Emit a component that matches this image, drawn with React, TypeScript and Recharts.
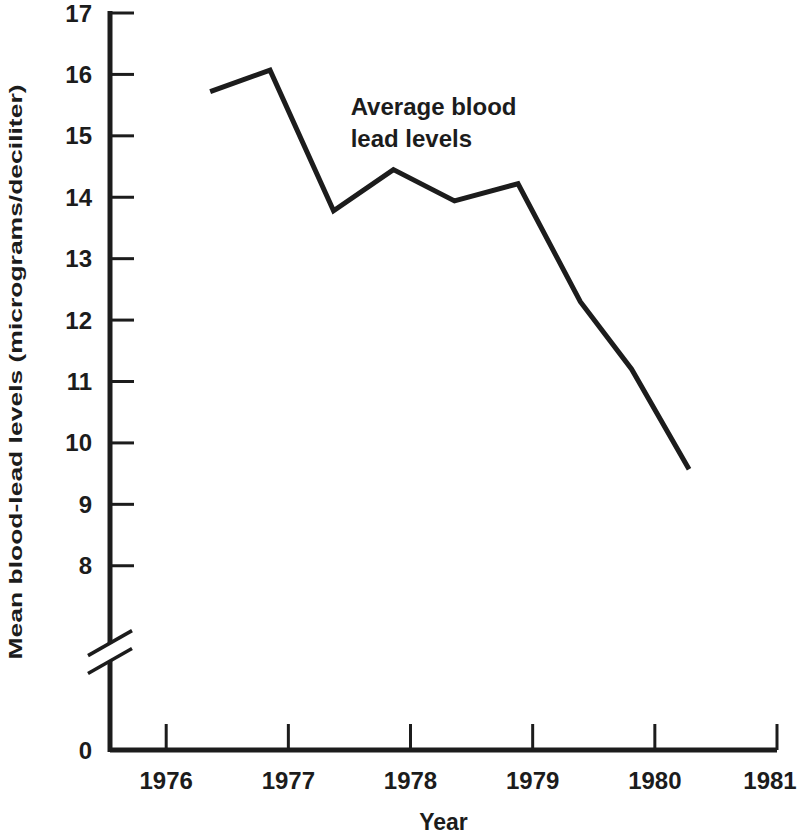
import React from 'react';
import { LineChart, Line, XAxis, YAxis, ReferenceLine, ReferenceDot, Label } from 'recharts';

// semiannual survey points
const years = [1976.36, 1976.85, 1977.37, 1977.86, 1978.36, 1978.88, 1979.39, 1979.81, 1980.28];
const leadLevels = [15.72, 16.07, 13.78, 14.45, 13.94, 14.22, 12.3, 11.2, 9.57];
const yearTicks = [1976, 1977, 1978, 1979, 1980, 1981];
// 5 on the scale stands in for the "0" below the axis break
const levelTicks = [5, 8, 9, 10, 11, 12, 13, 14, 15, 16, 17];
const annotationLines = ['Average blood', 'lead levels'];

const data = years.map((year, i) => ({ year, level: leadLevels[i] }));

const INK = '#1c1c1c';
const FONT = '"Liberation Sans", Arial, Helvetica, sans-serif';
const X_MIN = 1975.54;
const X_MAX = 1981;
const Y_MIN = 5;
const Y_MAX = 17;
const BREAK_HIGH = 6.74;
const BREAK_LOW = 6.45;

const YTick: React.FC<any> = ({ x, y, payload }) => {
    const isZero = payload.value === Y_MIN;
    return (
        <g>
            {!isZero && <line x1={x} x2={x + 24} y1={y} y2={y} stroke={INK} strokeWidth={3} />}
            <text x={x - 18} y={y} dy={8.5} textAnchor="end" fill={INK} fontFamily={FONT} fontWeight="bold" fontSize={24}>
                {isZero ? '0' : payload.value}
            </text>
        </g>
    );
};

const XTick: React.FC<any> = ({ x, y, payload }) => (
    <g>
        <line x1={x} x2={x} y1={y} y2={y - 26} stroke={INK} strokeWidth={3} />
        {/* keep the last label inside the page */}
        <text x={Math.min(x, 770)} y={y + 39} textAnchor="middle" fill={INK} fontFamily={FONT} fontWeight="bold" fontSize={24}>
            {payload.value}
        </text>
    </g>
);

// y axis drawn by hand so it can have the // break
const BrokenAxis: React.FC<any> = ({ x1, y1, y2 }) => {
    const top = Math.min(y1, y2);
    const bottom = Math.max(y1, y2);
    const toPx = (v: number) => bottom - ((v - Y_MIN) / (Y_MAX - Y_MIN)) * (bottom - top);
    const gapTop = toPx(BREAK_HIGH);
    const gapBottom = toPx(BREAK_LOW);
    return (
        <g stroke={INK} strokeWidth={5}>
            <line x1={x1} x2={x1} y1={top - 2} y2={gapTop} />
            <line x1={x1} x2={x1} y1={gapBottom} y2={bottom + 2} />
            <line x1={x1 - 22} x2={x1 + 22} y1={gapTop + 12.5} y2={gapTop - 12.5} strokeWidth={3.5} />
            <line x1={x1 - 22} x2={x1 + 22} y1={gapBottom + 12.5} y2={gapBottom - 12.5} strokeWidth={3.5} />
        </g>
    );
};

const Annotation: React.FC<any> = ({ cx, cy }) => (
    <text x={cx} y={cy} fill={INK} fontFamily={FONT} fontWeight="bold" fontSize={24}>
        {annotationLines.map((line, i) => (
            <tspan key={line} x={cx} dy={i === 0 ? 0 : 32}>{line}</tspan>
        ))}
    </text>
);

export default function App() {
    return (
        <div style={{ position: 'absolute', left: 0, top: 0, background: '#fff' }}>
            <LineChart width={800} height={836} data={data} margin={{ top: 13, right: 23, left: 0, bottom: 0 }}>
                <XAxis
                    dataKey="year"
                    type="number"
                    domain={[X_MIN, X_MAX]}
                    ticks={yearTicks}
                    allowDataOverflow
                    height={86}
                    tickSize={0}
                    tickMargin={0}
                    tickLine={false}
                    axisLine={{ stroke: INK, strokeWidth: 5 }}
                    tick={<XTick />}
                    interval={0}
                >
                    <Label
                        content={(p: any) => (
                            <text
                                x={p.viewBox.x + p.viewBox.width / 2}
                                y={p.viewBox.y + 80}
                                textAnchor="middle"
                                fill={INK}
                                fontFamily={FONT}
                                fontWeight="bold"
                                fontSize={23}
                            >
                                Year
                            </text>
                        )}
                    />
                </XAxis>
                <YAxis
                    type="number"
                    domain={[Y_MIN, Y_MAX]}
                    ticks={levelTicks}
                    allowDataOverflow
                    width={110}
                    tickSize={0}
                    tickMargin={0}
                    tickLine={false}
                    axisLine={false}
                    tick={<YTick />}
                    interval={0}
                >
                    <Label
                        content={() => (
                            <text
                                x={22}
                                y={372}
                                transform="rotate(-90, 22, 372)"
                                textAnchor="middle"
                                fill={INK}
                                fontFamily={FONT}
                                fontWeight="bold"
                                fontSize={19}
                                textLength={575}
                                lengthAdjust="spacingAndGlyphs"
                            >
                                Mean blood-lead levels (micrograms/deciliter)
                            </text>
                        )}
                    />
                </YAxis>
                <ReferenceLine x={X_MIN} shape={<BrokenAxis />} />
                <ReferenceDot x={1977.51} y={15.34} shape={<Annotation />} />
                <Line
                    dataKey="level"
                    stroke={INK}
                    strokeWidth={5}
                    strokeLinejoin="miter"
                    dot={false}
                    activeDot={false}
                    isAnimationActive={false}
                />
            </LineChart>
        </div>
    );
}
